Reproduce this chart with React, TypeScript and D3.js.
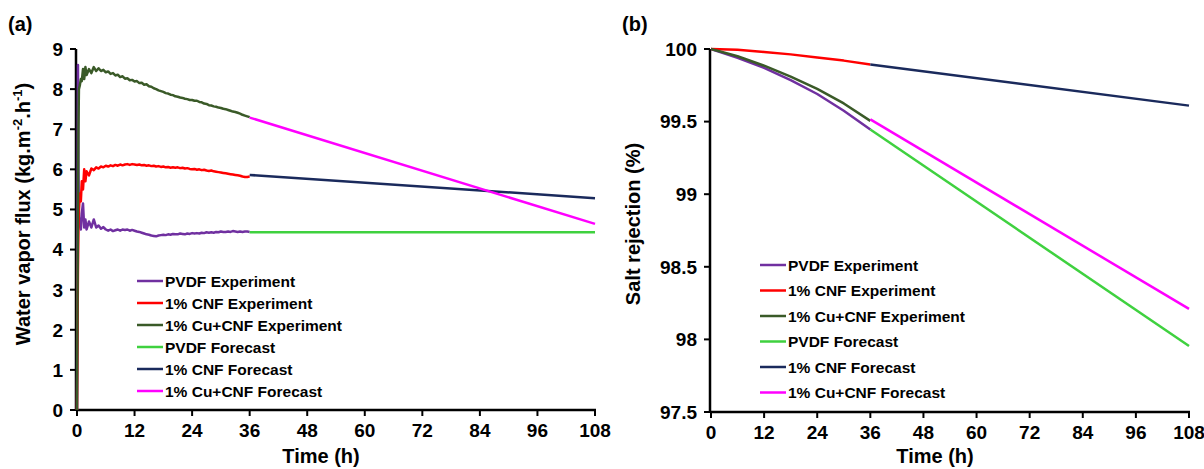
import React from 'react';
import * as d3 from 'd3';

const W = 1204;
const H = 469;
const FONT = '"Liberation Sans", Arial, sans-serif';

const seriesNames = [
  'PVDF Experiment',
  '1% CNF Experiment',
  '1% Cu+CNF Experiment',
  'PVDF Forecast',
  '1% CNF Forecast',
  '1% Cu+CNF Forecast',
];
const seriesColors = ['#7030a0', '#ff0000', '#3a5a28', '#3fd13f', '#1a2a5c', '#ff00ff'];

const timeTicks = [0, 12, 24, 36, 48, 60, 72, 84, 96, 108];
const fluxTicks = [0, 1, 2, 3, 4, 5, 6, 7, 8, 9];
const rejTicks = [97.5, 98, 98.5, 99, 99.5, 100];

// (a) water vapor flux, experiment part (h)
const fluxTime = [
  0, 0.1, 0.2, 0.3, 0.4, 0.6, 0.8, 1, 1.25, 1.5, 1.75,
  2, 2.5, 3, 3.5, 4, 4.5, 5, 5.5, 6, 6.5, 7, 7.5, 8, 8.5, 9, 9.5, 10, 10.5,
  11, 11.5, 12, 12.5, 13, 13.5, 14, 14.5, 15, 15.5, 16, 16.5, 17, 17.5, 18, 18.5,
  19, 19.5, 20, 20.5, 21, 21.5, 22, 22.5, 23, 23.5, 24, 24.5, 25, 25.5, 26, 26.5,
  27, 27.5, 28, 28.5, 29, 29.5, 30, 30.5, 31, 31.5, 32, 32.5, 33, 33.5, 34, 34.5,
  35, 35.5, 36,
];
const fluxPvdf = [
  0, 4.2, 8.6, 6.0, 4.8, 4.6, 4.5, 4.9, 5.15, 4.55, 4.75,
  4.5, 4.7, 4.55, 4.75, 4.55, 4.6, 4.52, 4.56, 4.5, 4.47, 4.5, 4.46, 4.48, 4.5, 4.47, 4.5, 4.49, 4.5,
  4.47, 4.49, 4.47, 4.45, 4.44, 4.42, 4.4, 4.38, 4.37, 4.35, 4.34, 4.33, 4.35, 4.36, 4.37, 4.36,
  4.38, 4.37, 4.39, 4.38, 4.38, 4.4, 4.39, 4.38, 4.4, 4.39, 4.41, 4.4, 4.41, 4.4, 4.42, 4.41,
  4.43, 4.42, 4.43, 4.42, 4.44, 4.43, 4.45, 4.44, 4.44, 4.45, 4.44, 4.46, 4.45, 4.44, 4.45, 4.44,
  4.45, 4.45, 4.44,
];
const fluxCnf = [
  0, 1.8, 3.5, 4.5, 5.0, 5.4, 5.2, 5.7, 5.5, 6.0, 5.7,
  5.95, 5.85, 6.02, 5.98, 6.05, 6.02, 6.07, 6.05, 6.09, 6.07, 6.1, 6.08, 6.11, 6.09, 6.12, 6.1, 6.12, 6.13,
  6.11, 6.13, 6.12, 6.11, 6.12, 6.1, 6.11, 6.09, 6.1, 6.08, 6.09, 6.07, 6.08, 6.06, 6.07, 6.05,
  6.06, 6.04, 6.05, 6.04, 6.05, 6.03, 6.04, 6.02, 6.03, 6.01, 6.0, 6.01, 5.99, 6.0, 5.98, 5.99,
  5.97, 5.96, 5.97, 5.95, 5.94, 5.93, 5.92, 5.91, 5.9, 5.89, 5.88, 5.87, 5.86, 5.85, 5.84, 5.82,
  5.81, 5.81, 5.82,
];
const fluxCuCnf = [
  0, 2.5, 5.0, 7.0, 8.0, 8.1, 8.25, 8.2, 8.5, 8.25, 8.55,
  8.35, 8.5, 8.4, 8.55, 8.45, 8.52, 8.45, 8.48, 8.42, 8.44, 8.38, 8.4, 8.34, 8.36, 8.3, 8.32, 8.26, 8.27,
  8.22, 8.23, 8.19, 8.2, 8.15, 8.16, 8.11, 8.12, 8.07, 8.06, 8.02, 8.0, 7.97, 7.95, 7.93, 7.9,
  7.89, 7.86, 7.85, 7.82, 7.81, 7.79, 7.78, 7.76, 7.75, 7.73, 7.73, 7.71, 7.71, 7.68, 7.67, 7.64,
  7.63, 7.6, 7.59, 7.57, 7.56, 7.54, 7.53, 7.51, 7.5, 7.48, 7.46, 7.44, 7.43, 7.41, 7.39, 7.36,
  7.34, 7.32, 7.3,
];
const forecastTime = [36, 108];
const fluxPvdfForecast = [4.43, 4.43];
const fluxCnfForecast = [5.86, 5.28];
const fluxCuCnfForecast = [7.29, 4.64];

// (b) salt rejection (%)
const rejTime = [0, 6, 12, 18, 24, 30, 36];
const rejPvdf = [100, 99.94, 99.87, 99.785, 99.69, 99.575, 99.445];
const rejCnf = [100, 99.995, 99.98, 99.963, 99.942, 99.92, 99.893];
const rejCuCnf = [100, 99.95, 99.885, 99.81, 99.725, 99.625, 99.505];
const rejPvdfForecast = [99.445, 97.955];
const rejCnfForecast = [99.893, 99.61];
const rejCuCnfForecast = [99.515, 98.21];

type Pt = [number, number];
const zip = (t: number[], v: number[]): Pt[] => t.map((d, i) => [d, v[i]]);

type PanelProps = {
  x0: number;
  x1: number;
  yTop: number;
  yBottom: number;
  yDomain: [number, number];
  yTicks: number[];
  series: Pt[][];
  legendX: number;
  legendY: number;
  legendStep: number;
  tag: string;
  tagX: number;
  yTitleX: number;
  yTitleY: number;
  yTitle: React.ReactNode;
};

function Panel(p: PanelProps) {
  const x = d3.scaleLinear().domain([0, 108]).range([p.x0, p.x1]);
  const y = d3.scaleLinear().domain(p.yDomain).range([p.yBottom, p.yTop]);
  const line = d3
    .line<Pt>()
    .x((d) => x(d[0]))
    .y((d) => y(d[1]));
  const ax = p.x0 - 1;
  return (
    <g fontFamily={FONT} fontWeight="bold" fill="#000">
      <text x={p.tagX} y={31} fontSize={20}>
        {p.tag}
      </text>
      {/* axes */}
      <line x1={ax} x2={ax} y1={p.yTop} y2={p.yBottom} stroke="#000" strokeWidth={2.5} />
      <line x1={ax} x2={p.x1 + 1} y1={p.yBottom} y2={p.yBottom} stroke="#000" strokeWidth={2.5} />
      {p.yTicks.map((t) => (
        <g key={'y' + t}>
          <line x1={ax - 6} x2={ax} y1={y(t)} y2={y(t)} stroke="#000" strokeWidth={2} />
          <text x={ax - 13} y={y(t)} dy="0.36em" textAnchor="end" fontSize={19}>
            {String(t)}
          </text>
        </g>
      ))}
      {timeTicks.map((t) => (
        <g key={'x' + t}>
          <line x1={x(t)} x2={x(t)} y1={p.yBottom} y2={p.yBottom + 6} stroke="#000" strokeWidth={2} />
          <text x={x(t)} y={p.yBottom + 27} textAnchor="middle" fontSize={19}>
            {t}
          </text>
        </g>
      ))}
      <text x={(p.x0 + p.x1) / 2 - 15} y={463} textAnchor="middle" fontSize={20}>
        Time (h)
      </text>
      <text
        transform={`translate(${p.yTitleX},${p.yTitleY}) rotate(-90)`}
        textAnchor="middle"
        fontSize={20}
      >
        {p.yTitle}
      </text>
      {/* data */}
      {p.series.map((s, i) => (
        <path
          key={'s' + i}
          d={line(s) ?? ''}
          fill="none"
          stroke={seriesColors[i]}
          strokeWidth={2.5}
          strokeLinejoin="round"
        />
      ))}
      {/* legend */}
      {seriesNames.map((n, i) => {
        const ly = p.legendY + i * p.legendStep;
        return (
          <g key={'l' + i}>
            <line x1={p.legendX} x2={p.legendX + 26} y1={ly} y2={ly} stroke={seriesColors[i]} strokeWidth={2.5} />
            <text x={p.legendX + 28} y={ly} dy="0.36em" fontSize={15.5}>
              {n}
            </text>
          </g>
        );
      })}
    </g>
  );
}

export default function App() {
  const fluxSeries = [
    zip(fluxTime, fluxPvdf),
    zip(fluxTime, fluxCnf),
    zip(fluxTime, fluxCuCnf),
    zip(forecastTime, fluxPvdfForecast),
    zip(forecastTime, fluxCnfForecast),
    zip(forecastTime, fluxCuCnfForecast),
  ];
  const rejSeries = [
    zip(rejTime, rejPvdf),
    zip(rejTime, rejCnf),
    zip(rejTime, rejCuCnf),
    zip(forecastTime, rejPvdfForecast),
    zip(forecastTime, rejCnfForecast),
    zip(forecastTime, rejCuCnfForecast),
  ];
  return (
    <svg
      width={W}
      height={H}
      style={{ position: 'absolute', left: 0, top: 0, background: '#fff' }}
    >
      <Panel
        x0={77}
        x1={595}
        yTop={49}
        yBottom={410}
        yDomain={[0, 9]}
        yTicks={fluxTicks}
        series={fluxSeries}
        legendX={137}
        legendY={281}
        legendStep={22}
        tag="(a)"
        tagX={8}
        yTitleX={30}
        yTitleY={214}
        yTitle={
          <>
            Water vapor flux (kg.m
            <tspan fontSize={13} dy={-8}>-2</tspan>
            <tspan dy={8}>.h</tspan>
            <tspan fontSize={13} dy={-8}>-1</tspan>
            <tspan dy={8}>)</tspan>
          </>
        }
      />
      <Panel
        x0={711}
        x1={1189}
        yTop={49}
        yBottom={412}
        yDomain={[97.5, 100]}
        yTicks={rejTicks}
        series={rejSeries}
        legendX={760}
        legendY={265}
        legendStep={25.5}
        tag="(b)"
        tagX={622}
        yTitleX={640}
        yTitleY={224}
        yTitle="Salt rejection (%)"
      />
    </svg>
  );
}
